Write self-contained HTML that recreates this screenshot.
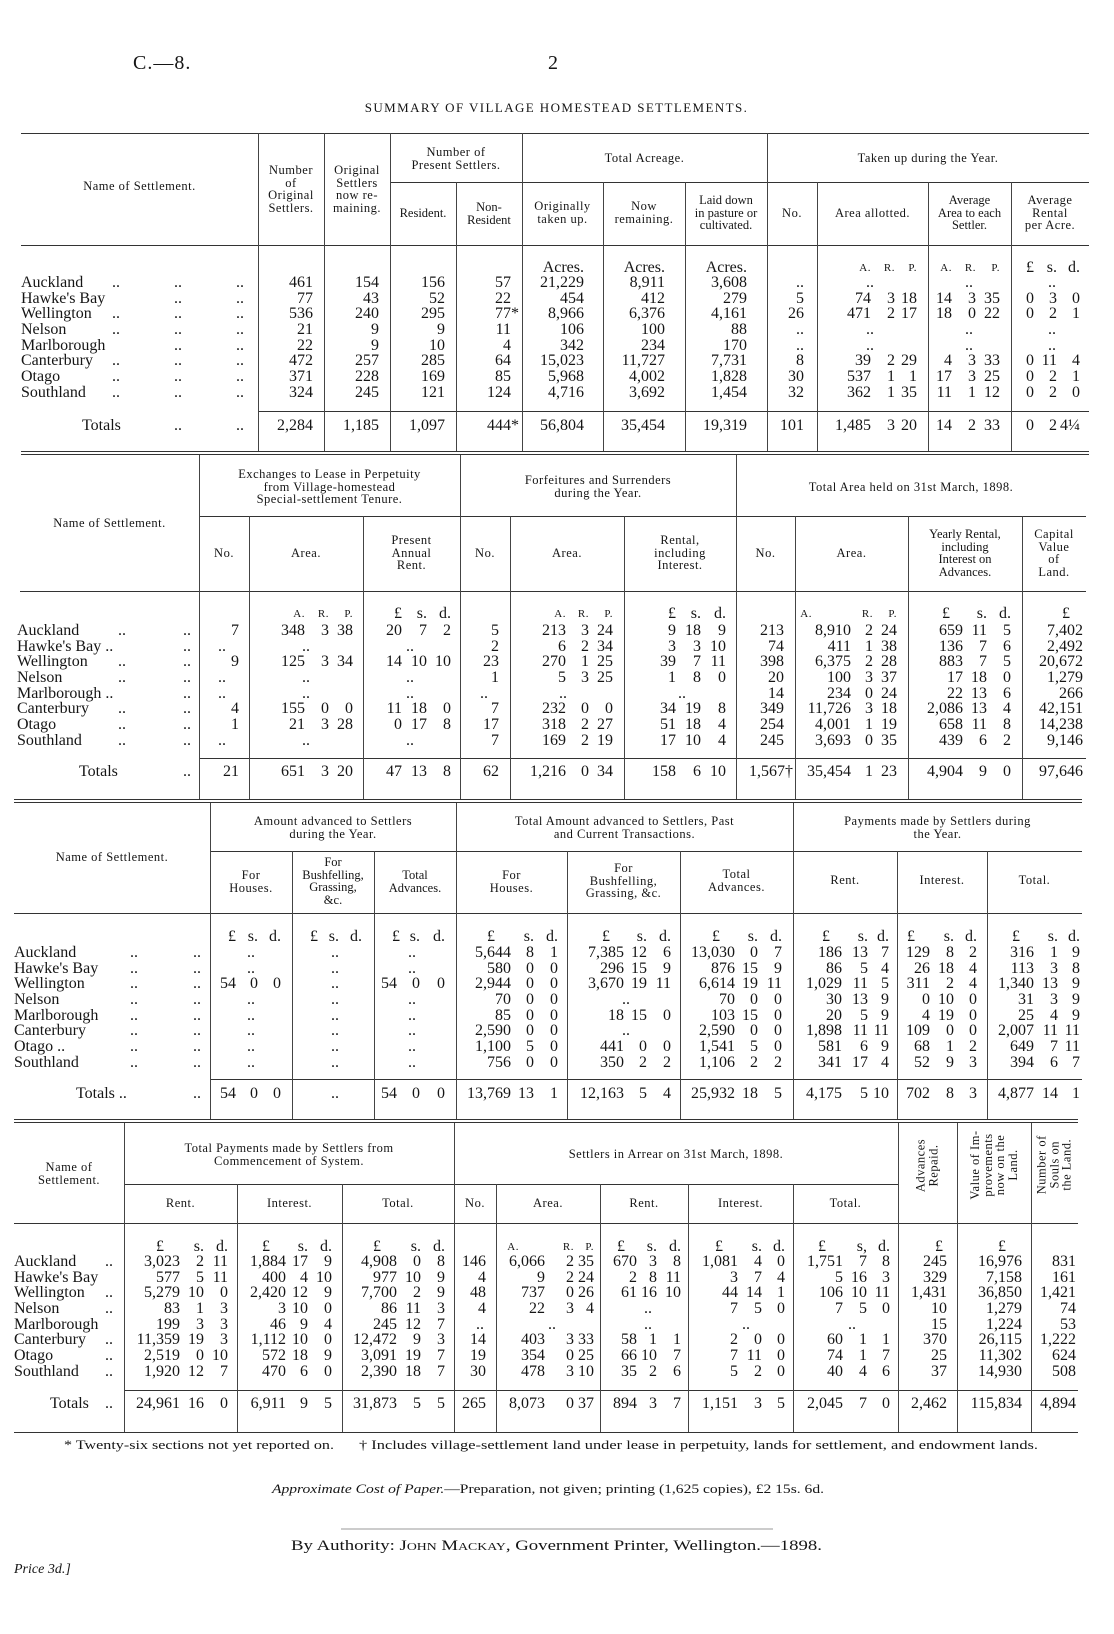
<!DOCTYPE html>
<html><head><meta charset="utf-8">
<style>
body{margin:0;width:1114px;height:1634px;position:relative;background:#fff;font-family:"Liberation Serif",serif;color:#151515;overflow:hidden}
.row{position:absolute;left:0;width:1114px;height:18px}
i{position:absolute;top:0;font-style:normal;white-space:pre;transform:translateX(-100%);font-size:16px;line-height:18px}
i.L{transform:none}
i.u{font-size:11px;letter-spacing:.5px}
.h{position:absolute;height:1px;background:#333}
.v{position:absolute;width:1px;background:#444}
.hd{position:absolute;text-align:center;font-size:12.5px;line-height:12.5px;letter-spacing:.5px;white-space:nowrap}
.rot{position:absolute;text-align:center;font-size:12.5px;line-height:12.5px;letter-spacing:.5px;transform:rotate(-90deg);white-space:nowrap}
.a1{left:313px}.a2{left:379px}.a3{left:445px}.a4{left:511px}.a5{left:584px}.a6{left:665px}.a7{left:747px}.a8{left:804px}.a9{left:871px}.a10{left:895px}.a11{left:917px}.a12{left:952px}.a13{left:976px}.a14{left:1000px}.a15{left:1034px}.a16{left:1057px}.a17{left:1080px}
.ax9{left:874px}.ax12{left:973px}.ax15{left:1056px}
.n{left:21px}.k1{left:112px}.k2{left:174px}.k3{left:236px}
.b1{left:239px}.b2{left:305px}.b3{left:329px}.b4{left:353px}.b5{left:402px}.b6{left:427px}.b7{left:451px}.b8{left:499px}.b9{left:566px}.b10{left:589px}.b11{left:613px}.b12{left:676px}.b13{left:701px}.b14{left:726px}.b15{left:784px}.b16{left:851px}.b17{left:873px}.b18{left:897px}.b19{left:963px}.b20{left:987px}.b21{left:1011px}.b22{left:1083px}
.bx1{left:226px}.bx2{left:310px}.bx3{left:414px}.bx8{left:488px}.bx9{left:567px}.bx12{left:686px}
.m{left:17px}.m1{left:118px}.m2{left:183px}
.c1{left:236px}.c2{left:258px}.c3{left:281px}.cx2{left:339px}.c4{left:397px}.c5{left:420px}.c6{left:445px}.c7{left:511px}.c8{left:534px}.c9{left:558px}.c10{left:624px}.c11{left:647px}.c12{left:671px}.c13{left:735px}.c14{left:758px}.c15{left:782px}.c16{left:842px}.c17{left:868px}.c18{left:889px}.c19{left:930px}.c20{left:954px}.c21{left:977px}.c22{left:1034px}.c23{left:1058px}.c24{left:1080px}
.cx1{left:255px}.cx3{left:416px}.cx10{left:630px}
.o{left:14px}.o1{left:130px}.o2{left:193px}
.e1{left:180px}.e2{left:204px}.e3{left:228px}.e4{left:286px}.e5{left:308px}.e6{left:332px}.e7{left:397px}.e8{left:421px}.e9{left:445px}.e10{left:486px}.e11{left:545px}.e12{left:574px}.e13{left:594px}.e14{left:637px}.e15{left:657px}.e16{left:681px}.e17{left:738px}.e18{left:762px}.e19{left:785px}.e20{left:843px}.e21{left:867px}.e22{left:890px}.e23{left:947px}.e24{left:1022px}.e25{left:1076px}
.ex10{left:484px}.ex11{left:556px}.ex14{left:652px}.ex17{left:750px}.ex20{left:856px}
.p{left:14px}.q1{left:105px}
</style></head><body>

<div style="position:absolute;left:133px;top:52px;font-size:20px;letter-spacing:1px">C.—8.</div>
<div style="position:absolute;left:548px;top:52px;font-size:20px">2</div>
<div style="position:absolute;left:326px;top:100px;width:461px;text-align:center;font-size:13px;letter-spacing:1.4px;white-space:nowrap">SUMMARY OF VILLAGE HOMESTEAD SETTLEMENTS.</div>

<div class="h" style="left:21px;top:133px;width:1068px"></div>
<div class="h" style="left:390px;top:182px;width:699px"></div>
<div class="h" style="left:21px;top:245px;width:1068px"></div>
<div class="h" style="left:258px;top:411px;width:831px"></div>
<div class="h" style="left:21px;top:451px;width:1068px"></div>
<div class="h" style="left:21px;top:454px;width:1068px"></div>
<div class="v" style="left:258px;top:133px;height:318px"></div>
<div class="v" style="left:324px;top:133px;height:318px"></div>
<div class="v" style="left:390px;top:133px;height:318px"></div>
<div class="v" style="left:522px;top:133px;height:318px"></div>
<div class="v" style="left:767px;top:133px;height:318px"></div>
<div class="v" style="left:456px;top:182px;height:269px"></div>
<div class="v" style="left:603px;top:182px;height:269px"></div>
<div class="v" style="left:685px;top:182px;height:269px"></div>
<div class="v" style="left:817px;top:182px;height:269px"></div>
<div class="v" style="left:928px;top:182px;height:269px"></div>
<div class="v" style="left:1011px;top:182px;height:269px"></div>

<div class="hd" style="left:21px;top:180px;width:237px">Name of Settlement.</div>
<div class="hd" style="left:258px;top:164px;width:66px">Number<br>of<br>Original<br>Settlers.</div>
<div class="hd" style="left:324px;top:164px;width:66px">Original<br>Settlers<br>now re-<br>maining.</div>
<div class="hd" style="left:390px;top:146px;width:132px">Number of<br>Present Settlers.</div>
<div class="hd" style="left:390px;top:207px;width:66px;letter-spacing:0">Resident.</div>
<div class="hd" style="left:456px;top:201px;width:66px;letter-spacing:0">Non-<br>Resident</div>
<div class="hd" style="left:522px;top:152px;width:245px">Total Acreage.</div>
<div class="hd" style="left:522px;top:200px;width:81px">Originally<br>taken up.</div>
<div class="hd" style="left:603px;top:200px;width:82px">Now<br>remaining.</div>
<div class="hd" style="left:685px;top:194px;width:82px;letter-spacing:0">Laid down<br>in pasture or<br>cultivated.</div>
<div class="hd" style="left:767px;top:152px;width:322px">Taken up during the Year.</div>
<div class="hd" style="left:767px;top:207px;width:50px">No.</div>
<div class="hd" style="left:817px;top:207px;width:111px">Area allotted.</div>
<div class="hd" style="left:928px;top:194px;width:83px;letter-spacing:0">Average<br>Area to each<br>Settler.</div>
<div class="hd" style="left:1011px;top:194px;width:78px">Average<br>Rental<br>per Acre.</div>

<div class="row" style="top:259px"><i class="a5">Acres.</i><i class="a6">Acres.</i><i class="a7">Acres.</i><i class="a9 u">A.</i><i class="a10 u">R.</i><i class="a11 u">P.</i><i class="a12 u">A.</i><i class="a13 u">R.</i><i class="a14 u">P.</i><i class="a15">£</i><i class="a16">s.</i><i class="a17">d.</i></div>
<div class="row" style="top:274px"><i class="L n">Auckland</i><i class="L k1">..</i><i class="L k2">..</i><i class="L k3">..</i><i class="a1">461</i><i class="a2">154</i><i class="a3">156</i><i class="a4">57</i><i class="a5">21,229</i><i class="a6">8,911</i><i class="a7">3,608</i><i class="a8">..</i><i class="ax9">..</i><i class="ax12">..</i><i class="ax15">..</i></div>
<div class="row" style="top:290px"><i class="L n">Hawke's Bay</i><i class="L k2">..</i><i class="L k3">..</i><i class="a1">77</i><i class="a2">43</i><i class="a3">52</i><i class="a4">22</i><i class="a5">454</i><i class="a6">412</i><i class="a7">279</i><i class="a8">5</i><i class="a9">74</i><i class="a10">3</i><i class="a11">18</i><i class="a12">14</i><i class="a13">3</i><i class="a14">35</i><i class="a15">0</i><i class="a16">3</i><i class="a17">0</i></div>
<div class="row" style="top:305px"><i class="L n">Wellington</i><i class="L k1">..</i><i class="L k2">..</i><i class="L k3">..</i><i class="a1">536</i><i class="a2">240</i><i class="a3">295</i><i style="left:519px">77*</i><i class="a5">8,966</i><i class="a6">6,376</i><i class="a7">4,161</i><i class="a8">26</i><i class="a9">471</i><i class="a10">2</i><i class="a11">17</i><i class="a12">18</i><i class="a13">0</i><i class="a14">22</i><i class="a15">0</i><i class="a16">2</i><i class="a17">1</i></div>
<div class="row" style="top:321px"><i class="L n">Nelson</i><i class="L k1">..</i><i class="L k2">..</i><i class="L k3">..</i><i class="a1">21</i><i class="a2">9</i><i class="a3">9</i><i class="a4">11</i><i class="a5">106</i><i class="a6">100</i><i class="a7">88</i><i class="a8">..</i><i class="ax9">..</i><i class="ax12">..</i><i class="ax15">..</i></div>
<div class="row" style="top:337px"><i class="L n">Marlborough</i><i class="L k2">..</i><i class="L k3">..</i><i class="a1">22</i><i class="a2">9</i><i class="a3">10</i><i class="a4">4</i><i class="a5">342</i><i class="a6">234</i><i class="a7">170</i><i class="a8">..</i><i class="ax9">..</i><i class="ax12">..</i><i class="ax15">..</i></div>
<div class="row" style="top:352px"><i class="L n">Canterbury</i><i class="L k1">..</i><i class="L k2">..</i><i class="L k3">..</i><i class="a1">472</i><i class="a2">257</i><i class="a3">285</i><i class="a4">64</i><i class="a5">15,023</i><i class="a6">11,727</i><i class="a7">7,731</i><i class="a8">8</i><i class="a9">39</i><i class="a10">2</i><i class="a11">29</i><i class="a12">4</i><i class="a13">3</i><i class="a14">33</i><i class="a15">0</i><i class="a16">11</i><i class="a17">4</i></div>
<div class="row" style="top:368px"><i class="L n">Otago</i><i class="L k1">..</i><i class="L k2">..</i><i class="L k3">..</i><i class="a1">371</i><i class="a2">228</i><i class="a3">169</i><i class="a4">85</i><i class="a5">5,968</i><i class="a6">4,002</i><i class="a7">1,828</i><i class="a8">30</i><i class="a9">537</i><i class="a10">1</i><i class="a11">1</i><i class="a12">17</i><i class="a13">3</i><i class="a14">25</i><i class="a15">0</i><i class="a16">2</i><i class="a17">1</i></div>
<div class="row" style="top:384px"><i class="L n">Southland</i><i class="L k1">..</i><i class="L k2">..</i><i class="L k3">..</i><i class="a1">324</i><i class="a2">245</i><i class="a3">121</i><i class="a4">124</i><i class="a5">4,716</i><i class="a6">3,692</i><i class="a7">1,454</i><i class="a8">32</i><i class="a9">362</i><i class="a10">1</i><i class="a11">35</i><i class="a12">11</i><i class="a13">1</i><i class="a14">12</i><i class="a15">0</i><i class="a16">2</i><i class="a17">0</i></div>
<div class="row" style="top:417px"><i class="L" style="left:82px">Totals</i><i class="L k2">..</i><i class="L k3">..</i><i class="a1">2,284</i><i class="a2">1,185</i><i class="a3">1,097</i><i style="left:519px">444*</i><i class="a5">56,804</i><i class="a6">35,454</i><i class="a7">19,319</i><i class="a8">101</i><i class="a9">1,485</i><i class="a10">3</i><i class="a11">20</i><i class="a12">14</i><i class="a13">2</i><i class="a14">33</i><i class="a15">0</i><i class="a16">2</i><i class="a17">4¼</i></div>

<div class="h" style="left:199px;top:516px;width:887px"></div>
<div class="h" style="left:20px;top:591px;width:1066px"></div>
<div class="h" style="left:199px;top:758px;width:887px"></div>
<div class="h" style="left:14px;top:799px;width:1068px"></div>
<div class="h" style="left:14px;top:802px;width:1068px"></div>
<div class="v" style="left:199px;top:455px;height:344px"></div>
<div class="v" style="left:460px;top:455px;height:344px"></div>
<div class="v" style="left:736px;top:455px;height:344px"></div>
<div class="v" style="left:249px;top:516px;height:283px"></div>
<div class="v" style="left:363px;top:516px;height:283px"></div>
<div class="v" style="left:510px;top:516px;height:283px"></div>
<div class="v" style="left:624px;top:516px;height:283px"></div>
<div class="v" style="left:795px;top:516px;height:283px"></div>
<div class="v" style="left:908px;top:516px;height:283px"></div>
<div class="v" style="left:1022px;top:516px;height:283px"></div>

<div class="hd" style="left:20px;top:517px;width:179px">Name of Settlement.</div>
<div class="hd" style="left:199px;top:468px;width:261px">Exchanges to Lease in Perpetuity<br>from Village-homestead<br>Special-settlement Tenure.</div>
<div class="hd" style="left:460px;top:474px;width:276px">Forfeitures and Surrenders<br>during the Year.</div>
<div class="hd" style="left:736px;top:481px;width:350px">Total Area held on 31st March, 1898.</div>
<div class="hd" style="left:199px;top:547px;width:50px">No.</div>
<div class="hd" style="left:249px;top:547px;width:114px">Area.</div>
<div class="hd" style="left:363px;top:534px;width:97px">Present<br>Annual<br>Rent.</div>
<div class="hd" style="left:460px;top:547px;width:50px">No.</div>
<div class="hd" style="left:510px;top:547px;width:114px">Area.</div>
<div class="hd" style="left:624px;top:534px;width:112px">Rental,<br>including<br>Interest.</div>
<div class="hd" style="left:736px;top:547px;width:59px">No.</div>
<div class="hd" style="left:795px;top:547px;width:113px">Area.</div>
<div class="hd" style="left:908px;top:528px;width:114px;letter-spacing:0">Yearly Rental,<br>including<br>Interest on<br>Advances.</div>
<div class="hd" style="left:1022px;top:528px;width:64px">Capital<br>Value<br>of<br>Land.</div>

<div class="row" style="top:605px"><i class="b2 u">A.</i><i class="b3 u">R.</i><i class="b4 u">P.</i><i class="b5">£</i><i class="b6">s.</i><i class="b7">d.</i><i class="b9 u">A.</i><i class="b10 u">R.</i><i class="b11 u">P.</i><i class="b12">£</i><i class="b13">s.</i><i class="b14">d.</i><i class="b16 u" style="left:812px">A.</i><i class="b17 u">R.</i><i class="b18 u">P.</i><i class="b19" style="left:950px">£</i><i class="b20">s.</i><i class="b21">d.</i><i class="b22" style="left:1070px">£</i></div>
<div class="row" style="top:622px"><i class="L m">Auckland</i><i class="L m1">..</i><i class="L m2">..</i><i class="b1">7</i><i class="b2">348</i><i class="b3">3</i><i class="b4">38</i><i class="b5">20</i><i class="b6">7</i><i class="b7">2</i><i class="b8">5</i><i class="b9">213</i><i class="b10">3</i><i class="b11">24</i><i class="b12">9</i><i class="b13">18</i><i class="b14">9</i><i class="b15">213</i><i class="b16">8,910</i><i class="b17">2</i><i class="b18">24</i><i class="b19">659</i><i class="b20">11</i><i class="b21">5</i><i class="b22">7,402</i></div>
<div class="row" style="top:638px"><i class="L m">Hawke's Bay ..</i><i class="L m2">..</i><i class="bx1">..</i><i class="bx2">..</i><i class="bx3">..</i><i class="b8">2</i><i class="b9">6</i><i class="b10">2</i><i class="b11">34</i><i class="b12">3</i><i class="b13">3</i><i class="b14">10</i><i class="b15">74</i><i class="b16">411</i><i class="b17">1</i><i class="b18">38</i><i class="b19">136</i><i class="b20">7</i><i class="b21">6</i><i class="b22">2,492</i></div>
<div class="row" style="top:653px"><i class="L m">Wellington</i><i class="L m1">..</i><i class="L m2">..</i><i class="b1">9</i><i class="b2">125</i><i class="b3">3</i><i class="b4">34</i><i class="b5">14</i><i class="b6">10</i><i class="b7">10</i><i class="b8">23</i><i class="b9">270</i><i class="b10">1</i><i class="b11">25</i><i class="b12">39</i><i class="b13">7</i><i class="b14">11</i><i class="b15">398</i><i class="b16">6,375</i><i class="b17">2</i><i class="b18">28</i><i class="b19">883</i><i class="b20">7</i><i class="b21">5</i><i class="b22">20,672</i></div>
<div class="row" style="top:669px"><i class="L m">Nelson</i><i class="L m1">..</i><i class="L m2">..</i><i class="bx1">..</i><i class="bx2">..</i><i class="bx3">..</i><i class="b8">1</i><i class="b9">5</i><i class="b10">3</i><i class="b11">25</i><i class="b12">1</i><i class="b13">8</i><i class="b14">0</i><i class="b15">20</i><i class="b16">100</i><i class="b17">3</i><i class="b18">37</i><i class="b19">17</i><i class="b20">18</i><i class="b21">0</i><i class="b22">1,279</i></div>
<div class="row" style="top:685px"><i class="L m">Marlborough ..</i><i class="L m2">..</i><i class="bx1">..</i><i class="bx2">..</i><i class="bx3">..</i><i class="bx8">..</i><i class="bx9">..</i><i class="bx12">..</i><i class="b15">14</i><i class="b16">234</i><i class="b17">0</i><i class="b18">24</i><i class="b19">22</i><i class="b20">13</i><i class="b21">6</i><i class="b22">266</i></div>
<div class="row" style="top:700px"><i class="L m">Canterbury</i><i class="L m1">..</i><i class="L m2">..</i><i class="b1">4</i><i class="b2">155</i><i class="b3">0</i><i class="b4">0</i><i class="b5">11</i><i class="b6">18</i><i class="b7">0</i><i class="b8">7</i><i class="b9">232</i><i class="b10">0</i><i class="b11">0</i><i class="b12">34</i><i class="b13">19</i><i class="b14">8</i><i class="b15">349</i><i class="b16">11,726</i><i class="b17">3</i><i class="b18">18</i><i class="b19">2,086</i><i class="b20">13</i><i class="b21">4</i><i class="b22">42,151</i></div>
<div class="row" style="top:716px"><i class="L m">Otago</i><i class="L m1">..</i><i class="L m2">..</i><i class="b1">1</i><i class="b2">21</i><i class="b3">3</i><i class="b4">28</i><i class="b5">0</i><i class="b6">17</i><i class="b7">8</i><i class="b8">17</i><i class="b9">318</i><i class="b10">2</i><i class="b11">27</i><i class="b12">51</i><i class="b13">18</i><i class="b14">4</i><i class="b15">254</i><i class="b16">4,001</i><i class="b17">1</i><i class="b18">19</i><i class="b19">658</i><i class="b20">11</i><i class="b21">8</i><i class="b22">14,238</i></div>
<div class="row" style="top:732px"><i class="L m">Southland</i><i class="L m1">..</i><i class="L m2">..</i><i class="bx1">..</i><i class="bx2">..</i><i class="bx3">..</i><i class="b8">7</i><i class="b9">169</i><i class="b10">2</i><i class="b11">19</i><i class="b12">17</i><i class="b13">10</i><i class="b14">4</i><i class="b15">245</i><i class="b16">3,693</i><i class="b17">0</i><i class="b18">35</i><i class="b19">439</i><i class="b20">6</i><i class="b21">2</i><i class="b22">9,146</i></div>
<div class="row" style="top:763px"><i class="L" style="left:79px">Totals</i><i class="L m2">..</i><i class="b1">21</i><i class="b2">651</i><i class="b3">3</i><i class="b4">20</i><i class="b5">47</i><i class="b6">13</i><i class="b7">8</i><i class="b8">62</i><i class="b9">1,216</i><i class="b10">0</i><i class="b11">34</i><i class="b12">158</i><i class="b13">6</i><i class="b14">10</i><i style="left:793px">1,567†</i><i class="b16">35,454</i><i class="b17">1</i><i class="b18">23</i><i class="b19">4,904</i><i class="b20">9</i><i class="b21">0</i><i class="b22">97,646</i></div>

<div class="h" style="left:210px;top:851px;width:872px"></div>
<div class="h" style="left:14px;top:913px;width:1068px"></div>
<div class="h" style="left:210px;top:1079px;width:872px"></div>
<div class="h" style="left:14px;top:1119px;width:1064px"></div>
<div class="h" style="left:14px;top:1122px;width:1064px"></div>
<div class="v" style="left:210px;top:803px;height:316px"></div>
<div class="v" style="left:456px;top:803px;height:316px"></div>
<div class="v" style="left:793px;top:803px;height:316px"></div>
<div class="v" style="left:292px;top:851px;height:268px"></div>
<div class="v" style="left:374px;top:851px;height:268px"></div>
<div class="v" style="left:567px;top:851px;height:268px"></div>
<div class="v" style="left:680px;top:851px;height:268px"></div>
<div class="v" style="left:897px;top:851px;height:268px"></div>
<div class="v" style="left:987px;top:851px;height:268px"></div>

<div class="hd" style="left:14px;top:851px;width:196px">Name of Settlement.</div>
<div class="hd" style="left:210px;top:815px;width:246px">Amount advanced to Settlers<br>during the Year.</div>
<div class="hd" style="left:456px;top:815px;width:337px">Total Amount advanced to Settlers, Past<br>and Current Transactions.</div>
<div class="hd" style="left:793px;top:815px;width:289px">Payments made by Settlers during<br>the Year.</div>
<div class="hd" style="left:210px;top:869px;width:82px">For<br>Houses.</div>
<div class="hd" style="left:292px;top:856px;width:82px;letter-spacing:0">For<br>Bushfelling,<br>Grassing,<br>&amp;c.</div>
<div class="hd" style="left:374px;top:869px;width:82px;letter-spacing:0">Total<br>Advances.</div>
<div class="hd" style="left:456px;top:869px;width:111px">For<br>Houses.</div>
<div class="hd" style="left:567px;top:862px;width:113px">For<br>Bushfelling,<br>Grassing, &amp;c.</div>
<div class="hd" style="left:680px;top:868px;width:113px">Total<br>Advances.</div>
<div class="hd" style="left:793px;top:874px;width:104px">Rent.</div>
<div class="hd" style="left:897px;top:874px;width:90px">Interest.</div>
<div class="hd" style="left:987px;top:874px;width:95px">Total.</div>

<div class="row" style="top:928px"><i style="left:236px">£</i><i class="c2">s.</i><i class="c3">d.</i><i style="left:318px">£</i><i style="left:339px">s.</i><i style="left:362px">d.</i><i style="left:400px">£</i><i class="c5">s.</i><i class="c6">d.</i><i style="left:495px">£</i><i class="c8">s.</i><i class="c9">d.</i><i style="left:610px">£</i><i class="c11">s.</i><i class="c12">d.</i><i style="left:720px">£</i><i class="c14">s.</i><i class="c15">d.</i><i style="left:830px">£</i><i class="c17">s.</i><i class="c18">d.</i><i style="left:915px">£</i><i class="c20">s.</i><i class="c21">d.</i><i style="left:1020px">£</i><i class="c23">s.</i><i class="c24">d.</i></div>
<div class="row" style="top:944px"><i class="L o">Auckland</i><i class="L o1">..</i><i class="L o2">..</i><i class="cx1">..</i><i class="cx2">..</i><i class="cx3">..</i><i class="c7">5,644</i><i class="c8">8</i><i class="c9">1</i><i class="c10">7,385</i><i class="c11">12</i><i class="c12">6</i><i class="c13">13,030</i><i class="c14">0</i><i class="c15">7</i><i class="c16">186</i><i class="c17">13</i><i class="c18">7</i><i class="c19">129</i><i class="c20">8</i><i class="c21">2</i><i class="c22">316</i><i class="c23">1</i><i class="c24">9</i></div>
<div class="row" style="top:960px"><i class="L o">Hawke's Bay</i><i class="L o1">..</i><i class="L o2">..</i><i class="cx1">..</i><i class="cx2">..</i><i class="cx3">..</i><i class="c7">580</i><i class="c8">0</i><i class="c9">0</i><i class="c10">296</i><i class="c11">15</i><i class="c12">9</i><i class="c13">876</i><i class="c14">15</i><i class="c15">9</i><i class="c16">86</i><i class="c17">5</i><i class="c18">4</i><i class="c19">26</i><i class="c20">18</i><i class="c21">4</i><i class="c22">113</i><i class="c23">3</i><i class="c24">8</i></div>
<div class="row" style="top:975px"><i class="L o">Wellington</i><i class="L o1">..</i><i class="L o2">..</i><i class="c1">54</i><i class="c2">0</i><i class="c3">0</i><i class="cx2">..</i><i class="c4">54</i><i class="c5">0</i><i class="c6">0</i><i class="c7">2,944</i><i class="c8">0</i><i class="c9">0</i><i class="c10">3,670</i><i class="c11">19</i><i class="c12">11</i><i class="c13">6,614</i><i class="c14">19</i><i class="c15">11</i><i class="c16">1,029</i><i class="c17">11</i><i class="c18">5</i><i class="c19">311</i><i class="c20">2</i><i class="c21">4</i><i class="c22">1,340</i><i class="c23">13</i><i class="c24">9</i></div>
<div class="row" style="top:991px"><i class="L o">Nelson</i><i class="L o1">..</i><i class="L o2">..</i><i class="cx1">..</i><i class="cx2">..</i><i class="cx3">..</i><i class="c7">70</i><i class="c8">0</i><i class="c9">0</i><i class="cx10">..</i><i class="c13">70</i><i class="c14">0</i><i class="c15">0</i><i class="c16">30</i><i class="c17">13</i><i class="c18">9</i><i class="c19">0</i><i class="c20">10</i><i class="c21">0</i><i class="c22">31</i><i class="c23">3</i><i class="c24">9</i></div>
<div class="row" style="top:1007px"><i class="L o">Marlborough</i><i class="L o1">..</i><i class="L o2">..</i><i class="cx1">..</i><i class="cx2">..</i><i class="cx3">..</i><i class="c7">85</i><i class="c8">0</i><i class="c9">0</i><i class="c10">18</i><i class="c11">15</i><i class="c12">0</i><i class="c13">103</i><i class="c14">15</i><i class="c15">0</i><i class="c16">20</i><i class="c17">5</i><i class="c18">9</i><i class="c19">4</i><i class="c20">19</i><i class="c21">0</i><i class="c22">25</i><i class="c23">4</i><i class="c24">9</i></div>
<div class="row" style="top:1022px"><i class="L o">Canterbury</i><i class="L o1">..</i><i class="L o2">..</i><i class="cx1">..</i><i class="cx2">..</i><i class="cx3">..</i><i class="c7">2,590</i><i class="c8">0</i><i class="c9">0</i><i class="cx10">..</i><i class="c13">2,590</i><i class="c14">0</i><i class="c15">0</i><i class="c16">1,898</i><i class="c17">11</i><i class="c18">11</i><i class="c19">109</i><i class="c20">0</i><i class="c21">0</i><i class="c22">2,007</i><i class="c23">11</i><i class="c24">11</i></div>
<div class="row" style="top:1038px"><i class="L o">Otago ..</i><i class="L o1">..</i><i class="L o2">..</i><i class="cx1">..</i><i class="cx2">..</i><i class="cx3">..</i><i class="c7">1,100</i><i class="c8">5</i><i class="c9">0</i><i class="c10">441</i><i class="c11">0</i><i class="c12">0</i><i class="c13">1,541</i><i class="c14">5</i><i class="c15">0</i><i class="c16">581</i><i class="c17">6</i><i class="c18">9</i><i class="c19">68</i><i class="c20">1</i><i class="c21">2</i><i class="c22">649</i><i class="c23">7</i><i class="c24">11</i></div>
<div class="row" style="top:1054px"><i class="L o">Southland</i><i class="L o1">..</i><i class="L o2">..</i><i class="cx1">..</i><i class="cx2">..</i><i class="cx3">..</i><i class="c7">756</i><i class="c8">0</i><i class="c9">0</i><i class="c10">350</i><i class="c11">2</i><i class="c12">2</i><i class="c13">1,106</i><i class="c14">2</i><i class="c15">2</i><i class="c16">341</i><i class="c17">17</i><i class="c18">4</i><i class="c19">52</i><i class="c20">9</i><i class="c21">3</i><i class="c22">394</i><i class="c23">6</i><i class="c24">7</i></div>
<div class="row" style="top:1085px"><i class="L" style="left:76px">Totals ..</i><i class="L o2">..</i><i class="c1">54</i><i class="c2">0</i><i class="c3">0</i><i class="cx2">..</i><i class="c4">54</i><i class="c5">0</i><i class="c6">0</i><i class="c7">13,769</i><i class="c8">13</i><i class="c9">1</i><i class="c10">12,163</i><i class="c11">5</i><i class="c12">4</i><i class="c13">25,932</i><i class="c14">18</i><i class="c15">5</i><i class="c16">4,175</i><i class="c17">5</i><i class="c18">10</i><i class="c19">702</i><i class="c20">8</i><i class="c21">3</i><i class="c22">4,877</i><i class="c23">14</i><i class="c24">1</i></div>

<div class="h" style="left:124px;top:1184px;width:774px"></div>
<div class="h" style="left:14px;top:1223px;width:1064px"></div>
<div class="h" style="left:124px;top:1390px;width:954px"></div>
<div class="h" style="left:14px;top:1432px;width:1064px"></div>
<div class="v" style="left:124px;top:1123px;height:309px"></div>
<div class="v" style="left:454px;top:1123px;height:309px"></div>
<div class="v" style="left:898px;top:1123px;height:309px"></div>
<div class="v" style="left:957px;top:1123px;height:309px"></div>
<div class="v" style="left:1031px;top:1123px;height:309px"></div>
<div class="v" style="left:237px;top:1184px;height:248px"></div>
<div class="v" style="left:342px;top:1184px;height:248px"></div>
<div class="v" style="left:496px;top:1184px;height:248px"></div>
<div class="v" style="left:600px;top:1184px;height:248px"></div>
<div class="v" style="left:688px;top:1184px;height:248px"></div>
<div class="v" style="left:793px;top:1184px;height:248px"></div>

<div class="hd" style="left:14px;top:1161px;width:110px">Name of<br>Settlement.</div>
<div class="hd" style="left:124px;top:1142px;width:330px">Total Payments made by Settlers from<br>Commencement of System.</div>
<div class="hd" style="left:454px;top:1148px;width:444px">Settlers in Arrear on 31st March, 1898.</div>
<div class="hd" style="left:124px;top:1197px;width:113px">Rent.</div>
<div class="hd" style="left:237px;top:1197px;width:105px">Interest.</div>
<div class="hd" style="left:342px;top:1197px;width:112px">Total.</div>
<div class="hd" style="left:454px;top:1197px;width:42px">No.</div>
<div class="hd" style="left:496px;top:1197px;width:104px">Area.</div>
<div class="hd" style="left:600px;top:1197px;width:88px">Rent.</div>
<div class="hd" style="left:688px;top:1197px;width:105px">Interest.</div>
<div class="hd" style="left:793px;top:1197px;width:105px">Total.</div>
<div class="rot" style="left:887px;top:1153px;width:80px">Advances<br>Repaid.</div>
<div class="rot" style="left:954px;top:1140px;width:80px">Value of Im-<br>provements<br>now on the<br>Land.</div>
<div class="rot" style="left:1014px;top:1146px;width:80px">Number of<br>Souls on<br>the Land.</div>

<div class="row" style="top:1238px"><i style="left:164px">£</i><i class="e2">s.</i><i class="e3">d.</i><i style="left:270px">£</i><i class="e5">s.</i><i class="e6">d.</i><i style="left:381px">£</i><i class="e8">s.</i><i class="e9">d.</i><i class="e11 u" style="left:519px">A.</i><i class="e12 u">R.</i><i class="e13 u">P.</i><i style="left:625px">£</i><i class="e15">s.</i><i class="e16">d.</i><i style="left:723px">£</i><i class="e18">s.</i><i class="e19">d.</i><i style="left:826px">£</i><i class="e21">s,</i><i class="e22">d.</i><i style="left:943px">£</i><i style="left:1006px">£</i></div>
<div class="row" style="top:1253px"><i class="L p">Auckland</i><i class="L q1">..</i><i class="e1">3,023</i><i class="e2">2</i><i class="e3">11</i><i class="e4">1,884</i><i class="e5">17</i><i class="e6">9</i><i class="e7">4,908</i><i class="e8">0</i><i class="e9">8</i><i class="e10">146</i><i class="e11">6,066</i><i class="e12">2</i><i class="e13">35</i><i class="e14">670</i><i class="e15">3</i><i class="e16">8</i><i class="e17">1,081</i><i class="e18">4</i><i class="e19">0</i><i class="e20">1,751</i><i class="e21">7</i><i class="e22">8</i><i class="e23">245</i><i class="e24">16,976</i><i class="e25">831</i></div>
<div class="row" style="top:1269px"><i class="L p">Hawke's Bay</i><i class="e1">577</i><i class="e2">5</i><i class="e3">11</i><i class="e4">400</i><i class="e5">4</i><i class="e6">10</i><i class="e7">977</i><i class="e8">10</i><i class="e9">9</i><i class="e10">4</i><i class="e11">9</i><i class="e12">2</i><i class="e13">24</i><i class="e14">2</i><i class="e15">8</i><i class="e16">11</i><i class="e17">3</i><i class="e18">7</i><i class="e19">4</i><i class="e20">5</i><i class="e21">16</i><i class="e22">3</i><i class="e23">329</i><i class="e24">7,158</i><i class="e25">161</i></div>
<div class="row" style="top:1284px"><i class="L p">Wellington</i><i class="L q1">..</i><i class="e1">5,279</i><i class="e2">10</i><i class="e3">0</i><i class="e4">2,420</i><i class="e5">12</i><i class="e6">9</i><i class="e7">7,700</i><i class="e8">2</i><i class="e9">9</i><i class="e10">48</i><i class="e11">737</i><i class="e12">0</i><i class="e13">26</i><i class="e14">61</i><i class="e15">16</i><i class="e16">10</i><i class="e17">44</i><i class="e18">14</i><i class="e19">1</i><i class="e20">106</i><i class="e21">10</i><i class="e22">11</i><i class="e23">1,431</i><i class="e24">36,850</i><i class="e25">1,421</i></div>
<div class="row" style="top:1300px"><i class="L p">Nelson</i><i class="L q1">..</i><i class="e1">83</i><i class="e2">1</i><i class="e3">3</i><i class="e4">3</i><i class="e5">10</i><i class="e6">0</i><i class="e7">86</i><i class="e8">11</i><i class="e9">3</i><i class="e10">4</i><i class="e11">22</i><i class="e12">3</i><i class="e13">4</i><i class="ex14">..</i><i class="e17">7</i><i class="e18">5</i><i class="e19">0</i><i class="e20">7</i><i class="e21">5</i><i class="e22">0</i><i class="e23">10</i><i class="e24">1,279</i><i class="e25">74</i></div>
<div class="row" style="top:1316px"><i class="L p">Marlborough</i><i class="e1">199</i><i class="e2">3</i><i class="e3">3</i><i class="e4">46</i><i class="e5">9</i><i class="e6">4</i><i class="e7">245</i><i class="e8">12</i><i class="e9">7</i><i class="ex10">..</i><i class="ex11">..</i><i class="ex14">..</i><i class="ex17">..</i><i class="ex20">..</i><i class="e23">15</i><i class="e24">1,224</i><i class="e25">53</i></div>
<div class="row" style="top:1331px"><i class="L p">Canterbury</i><i class="L q1">..</i><i class="e1">11,359</i><i class="e2">19</i><i class="e3">3</i><i class="e4">1,112</i><i class="e5">10</i><i class="e6">0</i><i class="e7">12,472</i><i class="e8">9</i><i class="e9">3</i><i class="e10">14</i><i class="e11">403</i><i class="e12">3</i><i class="e13">33</i><i class="e14">58</i><i class="e15">1</i><i class="e16">1</i><i class="e17">2</i><i class="e18">0</i><i class="e19">0</i><i class="e20">60</i><i class="e21">1</i><i class="e22">1</i><i class="e23">370</i><i class="e24">26,115</i><i class="e25">1,222</i></div>
<div class="row" style="top:1347px"><i class="L p">Otago</i><i class="L q1">..</i><i class="e1">2,519</i><i class="e2">0</i><i class="e3">10</i><i class="e4">572</i><i class="e5">18</i><i class="e6">9</i><i class="e7">3,091</i><i class="e8">19</i><i class="e9">7</i><i class="e10">19</i><i class="e11">354</i><i class="e12">0</i><i class="e13">25</i><i class="e14">66</i><i class="e15">10</i><i class="e16">7</i><i class="e17">7</i><i class="e18">11</i><i class="e19">0</i><i class="e20">74</i><i class="e21">1</i><i class="e22">7</i><i class="e23">25</i><i class="e24">11,302</i><i class="e25">624</i></div>
<div class="row" style="top:1363px"><i class="L p">Southland</i><i class="L q1">..</i><i class="e1">1,920</i><i class="e2">12</i><i class="e3">7</i><i class="e4">470</i><i class="e5">6</i><i class="e6">0</i><i class="e7">2,390</i><i class="e8">18</i><i class="e9">7</i><i class="e10">30</i><i class="e11">478</i><i class="e12">3</i><i class="e13">10</i><i class="e14">35</i><i class="e15">2</i><i class="e16">6</i><i class="e17">5</i><i class="e18">2</i><i class="e19">0</i><i class="e20">40</i><i class="e21">4</i><i class="e22">6</i><i class="e23">37</i><i class="e24">14,930</i><i class="e25">508</i></div>
<div class="row" style="top:1395px"><i class="L" style="left:50px">Totals</i><i class="L q1">..</i><i class="e1">24,961</i><i class="e2">16</i><i class="e3">0</i><i class="e4">6,911</i><i class="e5">9</i><i class="e6">5</i><i class="e7">31,873</i><i class="e8">5</i><i class="e9">5</i><i class="e10">265</i><i class="e11">8,073</i><i class="e12">0</i><i class="e13">37</i><i class="e14">894</i><i class="e15">3</i><i class="e16">7</i><i class="e17">1,151</i><i class="e18">3</i><i class="e19">5</i><i class="e20">2,045</i><i class="e21">7</i><i class="e22">0</i><i class="e23">2,462</i><i class="e24">115,834</i><i class="e25">4,894</i></div>

<svg style="position:absolute;left:0;top:0" width="1114" height="1634" xmlns="http://www.w3.org/2000/svg">
<g font-family="Liberation Serif, serif" fill="#151515">
<text x="64" y="1449" font-size="13" textLength="270" lengthAdjust="spacingAndGlyphs">* Twenty-six sections not yet reported on.</text>
<text x="359" y="1449" font-size="13" textLength="679" lengthAdjust="spacingAndGlyphs">† Includes village-settlement land under lease in perpetuity, lands for settlement, and endowment lands.</text>
<text x="272" y="1493" font-size="13" textLength="552" lengthAdjust="spacingAndGlyphs"><tspan font-style="italic">Approximate Cost of Paper.</tspan>—Preparation, not given; printing (1,625 copies), £2 15s. 6d.</text>
<text x="291" y="1550" font-size="15" textLength="531" lengthAdjust="spacingAndGlyphs">By Authority:  J<tspan font-size="11">OHN</tspan> M<tspan font-size="11">ACKAY</tspan>, Government Printer, Wellington.—1898.</text>
<text x="14" y="1573" font-size="14" font-style="italic">Price 3d.]</text>
</g>
<line x1="341" y1="1529" x2="773" y2="1529" stroke="#999" stroke-width="1"/>
</svg>
</body></html>
